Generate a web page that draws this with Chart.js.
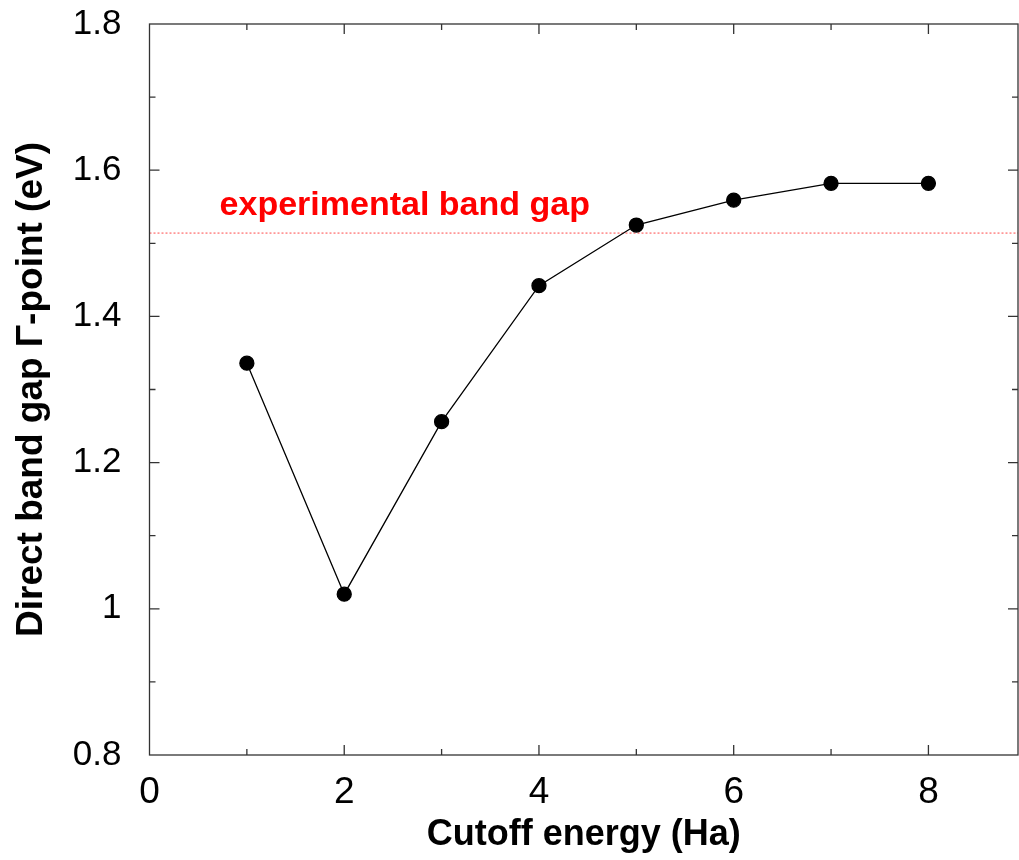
<!DOCTYPE html>
<html lang="en">
<head>
  <meta charset="UTF-8" />
  <title>Direct band gap vs cutoff energy</title>
  <script src="https://cdn.jsdelivr.net/npm/chart.js"></script>
  <style>
    body {
      margin: 0;
      background: #fff;
      overflow: hidden;
    }

    #wrap {
      width: 1019px;
      height: 860px;
    }
  </style>
</head>

<body>
  <div id="wrap"><canvas id="gapChart"></canvas></div>

  <script>
    // values
    const cutoffEnergy = [1, 2, 3, 4, 5, 6, 7, 8];
    const bandGap = [1.336, 1.020, 1.256, 1.442, 1.525, 1.559, 1.582, 1.582];

    const expGap = 1.514;
    const expLineX = [0, 8.92];
    const expLabel = "experimental band gap";
    const expLabelPos = { x: 0.72, y: 1.539 };

    const xRange = [0, 8.92];
    const yRange = [0.8, 1.8];

    const fontFamily = "'Liberation Sans', Arial, sans-serif";

    // gnuplot style frame with ticks pointing inwards
    const framePlugin = {
      id: "frame",
      afterDraw(chart) {
        const { ctx, chartArea: a, scales } = chart;
        ctx.save();
        ctx.strokeStyle = "#333";
        ctx.lineWidth = 1.3;
        ctx.strokeRect(a.left, a.top, a.right - a.left, a.bottom - a.top);

        scales.x.ticks.forEach(t => {
          const px = scales.x.getPixelForValue(t.value);
          if (px <= a.left + 1 || px >= a.right - 1) return;
          const len = t.value % 2 === 0 ? 10 : 6;
          ctx.beginPath();
          ctx.moveTo(px, a.bottom); ctx.lineTo(px, a.bottom - len);
          ctx.moveTo(px, a.top); ctx.lineTo(px, a.top + len);
          ctx.stroke();
        });

        scales.y.ticks.forEach(t => {
          const py = scales.y.getPixelForValue(t.value);
          if (py <= a.top + 1 || py >= a.bottom - 1) return;
          const len = Math.round(t.value * 10) % 2 === 0 ? 10 : 6;
          ctx.beginPath();
          ctx.moveTo(a.left, py); ctx.lineTo(a.left + len, py);
          ctx.moveTo(a.right, py); ctx.lineTo(a.right - len, py);
          ctx.stroke();
        });

        // label for the experimental line
        ctx.fillStyle = "#ff0000";
        ctx.font = "bold 34px " + fontFamily;
        ctx.textBaseline = "alphabetic";
        ctx.textAlign = "left";
        ctx.fillText(expLabel,
          scales.x.getPixelForValue(expLabelPos.x),
          scales.y.getPixelForValue(expLabelPos.y));
        ctx.restore();
      }
    };

    new Chart(document.getElementById("gapChart"), {
      type: "line",
      data: {
        datasets: [
          {
            label: "band gap",
            data: cutoffEnergy.map((x, i) => ({ x: x, y: bandGap[i] })),
            borderColor: "#000",
            backgroundColor: "#000",
            borderWidth: 1.3,
            pointRadius: 7,
            pointBackgroundColor: "#000",
            pointBorderColor: "#000",
            tension: 0
          },
          {
            label: "experimental",
            data: expLineX.map(x => ({ x: x, y: expGap })),
            borderColor: "rgba(255, 40, 40, 0.85)",
            borderWidth: 1,
            borderDash: [2, 2],
            pointRadius: 0
          }
        ]
      },
      options: {
        responsive: true,
        maintainAspectRatio: false,
        animation: false,
        layout: { autoPadding: false, padding: { top: 24, right: 1, left: 0, bottom: 0 } },
        plugins: {
          legend: { display: false },
          tooltip: { enabled: false }
        },
        scales: {
          x: {
            type: "linear",
            min: xRange[0],
            max: xRange[1],
            grid: { display: false },
            border: { display: false },
            ticks: {
              stepSize: 1,
              includeBounds: false,
              autoSkip: false,
              maxRotation: 0,
              padding: 8,
              color: "#000",
              font: { family: fontFamily, size: 37 },
              callback: v => (v % 2 === 0 ? String(v) : "")
            },
            title: {
              display: true,
              text: "Cutoff energy (Ha)",
              color: "#000",
              font: { family: fontFamily, size: 36, weight: "bold" },
              padding: { top: 0, bottom: 3 }
            },
            afterFit: s => {
              s.height = 105;
              s.paddingLeft = 0;
              s.paddingRight = 0;
            }
          },
          y: {
            min: yRange[0],
            max: yRange[1],
            grid: { display: false },
            border: { display: false },
            ticks: {
              stepSize: 0.1,
              autoSkip: false,
              padding: 20,
              color: "#000",
              font: { family: fontFamily, size: 35 },
              callback: v => (Math.round(v * 10) % 2 === 0 ? String(Number(v.toFixed(1))) : "")
            },
            title: {
              display: true,
              text: "Direct band gap \u0393-point (eV)",
              color: "#000",
              font: { family: fontFamily, size: 37, weight: "bold" },
              padding: { top: 10, bottom: 0 }
            },
            afterFit: s => {
              s.width = 149.5;
              s.paddingTop = 0;
              s.paddingBottom = 0;
            }
          }
        }
      },
      plugins: [framePlugin]
    });
  </script>
</body>
</html>
